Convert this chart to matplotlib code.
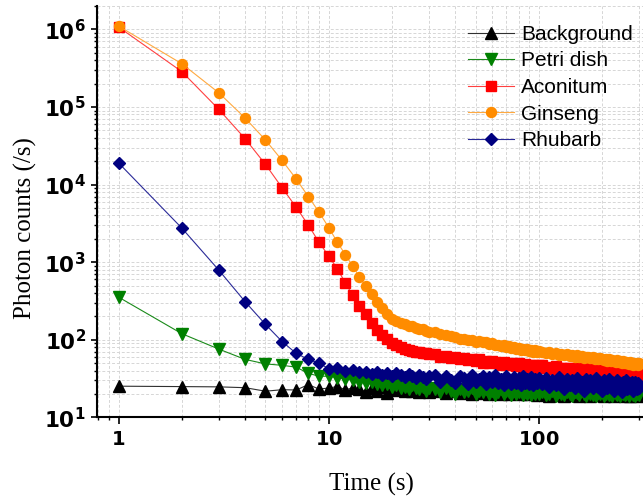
import numpy as np
import matplotlib
matplotlib.use("Agg")
from matplotlib import pyplot as plt
from matplotlib.ticker import FuncFormatter, LogLocator, NullFormatter

# time grid (s): every 1 s to 30, every 2 s to 100, every 4 s to 300
time_s = np.concatenate([np.arange(1, 31), np.arange(32, 101, 2), np.arange(104, 301, 4)])

background_early = [25.3, 25, 24.8, 24.2, 21.8, 22.8, 22.6, 26.5, 23.2, 24,
                    25, 22.8, 24, 23, 21.5, 23.8, 22, 24.5, 20.5, 23,
                    22.4, 24.6, 21.8, 23.5, 22, 24.8, 21.6, 22.8, 23.6, 21.4]
background_mid = [22, 22.8, 20.5, 21.8, 23, 20.6, 21.2, 22.3, 20, 21.5,
                  22.6, 20.8, 21.3, 19.8, 22, 20.9, 22.8, 20.3, 21.5, 22.1,
                  20, 21.1, 22.2, 20.4, 21.6, 19.8, 21.2, 22.2, 20.1, 20.8,
                  21.6, 20.4, 21.2, 19.5, 21]
background_late = [20, 21, 19.1, 20.4, 21.5, 19.3, 20.1, 18.7, 20.8, 20.3,
                   19.5, 21.2, 19.9, 19.1, 20.6, 21, 19.4, 20, 18.9, 20.7,
                   21.3, 19.2, 20.2, 19.7, 20.9, 18.8, 20.4, 19.8, 21.1, 19.5,
                   20.1, 18.7, 20.5, 21, 19.3, 19.9, 19.6, 20.8, 18.9, 20.3,
                   19.4, 20.6, 19.1, 20.1, 21.2, 19.5, 19.9, 18.8, 20.4, 19.8]

petri_early = [355, 120, 76, 56, 49, 47, 44.5, 37, 34, 34,
               32.5, 31.5, 30, 29, 28, 29, 27, 26, 27, 25,
               26, 24, 25, 23, 26, 24, 23, 25, 22, 24]
petri_mid = [23, 21, 24, 22, 20, 23, 21, 22, 24, 20,
             22, 21, 23, 20, 22, 19.5, 21, 23, 20, 22,
             21, 19.5, 22, 20, 21, 23, 19.5, 21, 20, 22,
             19.5, 21, 20, 22, 20]
petri_late = [21, 19.5, 20, 22, 19, 21, 20, 19.5, 21.5, 20,
              19, 21, 20.5, 19.5, 22, 20, 19, 21, 20, 19.5,
              21, 19, 20.5, 20, 21.5, 19, 20, 21, 19.5, 20,
              19, 21, 20, 19.5, 20.5, 19, 21, 20, 19.5, 20,
              21, 19, 20, 20.5, 19.5, 21, 19, 20, 20.5, 19.5]

aconitum_early = [1070000, 285000, 93000, 39000, 18200, 9100, 5100, 3000, 1800, 1200,
                  820, 540, 375, 275, 215, 165, 135, 116, 102, 92,
                  85, 80, 77, 74, 72, 70, 69, 67, 67, 65]
aconitum_mid = [66, 61, 62, 58, 60, 56, 59, 55, 56, 53,
                57, 51, 54, 50, 54, 52, 50, 48, 52, 49,
                47, 51, 48, 46, 50, 47, 45, 49, 46, 48,
                44, 47, 46, 44, 47]
aconitum_late = [47, 43, 45, 42, 46, 41, 44, 43, 40, 44,
                 41, 43, 39, 42, 40, 43, 38, 41, 42, 39,
                 41, 37, 40, 39, 41, 37, 39, 40, 36, 39,
                 38, 40, 36, 38, 39, 35, 38, 37, 39, 35,
                 36, 33, 37, 35, 38, 34, 36, 38, 35, 39]

ginseng_early = [1100000, 360000, 152000, 72000, 37500, 20500, 11800, 7000, 4400, 2800,
                 1800, 1250, 890, 650, 490, 385, 310, 255, 215, 188,
                 176, 166, 160, 153, 149, 144, 139, 136, 131, 128]
ginseng_mid = [126, 118, 116, 111, 110, 104, 104, 99, 101, 94,
               96, 93, 93, 88, 90, 86, 87, 84, 85, 80,
               83, 78, 81, 76, 79, 75, 77, 74, 76, 71,
               75, 70, 73, 69, 71]
ginseng_late = [70, 67, 69, 65, 67, 64, 66, 63, 65, 62,
                64, 61, 63, 60, 62, 59, 61, 60, 58, 60,
                57, 59, 56, 58, 57, 55, 57, 54, 56, 53,
                55, 54, 52, 55, 52, 53, 51, 54, 50, 52,
                51, 49, 52, 50, 48, 51, 49, 50, 47, 50]

rhubarb_early = [19000, 2750, 790, 310, 158, 95, 67, 56, 50, 42.5,
                 43, 40, 41, 38, 39, 36, 38, 35, 37, 34,
                 37, 35, 33, 36, 34, 32, 35, 33, 31, 34]
rhubarb_mid = [35, 29, 34, 30, 28, 34, 32, 27, 35, 29,
               31, 34, 27, 33, 29, 35, 28, 31, 26, 34,
               30, 27, 33, 28, 32, 26, 34, 28, 31, 27,
               33, 26, 31, 28, 32]
rhubarb_late = [27, 32, 25, 30, 26, 33, 28, 23, 31, 26,
                30, 24, 32, 26, 29, 22, 31, 27, 30, 24,
                28, 32, 25, 27, 22, 30, 26, 24, 31, 25,
                29, 22, 27, 30, 24, 28, 21, 29, 25, 30,
                23, 28, 24, 29, 22, 26, 29, 23, 28, 24]

labels = ['Background', 'Petri dish', 'Aconitum', 'Ginseng', 'Rhubarb']
series = [background_early + background_mid + background_late,
          petri_early + petri_mid + petri_late,
          aconitum_early + aconitum_mid + aconitum_late,
          ginseng_early + ginseng_mid + ginseng_late,
          rhubarb_early + rhubarb_mid + rhubarb_late]
markers = ['^', 'v', 's', 'o', 'D']
marker_colors = ['#000000', '#008000', '#ff0000', '#ff8c00', '#000080']
line_colors = ['#303030', '#1a8a1a', '#ff4040', '#ffa940', '#2a2a98']
marker_sizes = [8, 8, 6.5, 7.2, 5.8]

fig = plt.figure(figsize=(6.43, 5.01), dpi=100)
ax = fig.add_axes([0.151, 0.1667, 0.849, 0.8214])

for vals, lab, mk, mc, lc, ms in zip(series, labels, markers, marker_colors, line_colors, marker_sizes):
    ax.plot(time_s, vals, marker=mk, color=lc, mfc=mc, mec=mc, ms=ms, lw=0.8, label=lab)

ax.set_xscale('log')
ax.set_yscale('log')
ax.set_xlim(0.79, 313)
ax.set_ylim(10, 2.0e6)

ax.xaxis.set_major_locator(LogLocator(base=10, numticks=10))
ax.xaxis.set_minor_locator(LogLocator(base=10, subs=np.arange(2, 10), numticks=20))
ax.yaxis.set_major_locator(LogLocator(base=10, numticks=10))
ax.yaxis.set_minor_locator(LogLocator(base=10, subs=np.arange(2, 10), numticks=20))
ax.xaxis.set_major_formatter(FuncFormatter(lambda v, p: r'$\mathbf{%d}$' % round(v)))
ax.yaxis.set_major_formatter(FuncFormatter(lambda v, p: r'$\mathbf{10^{%d}}$' % round(np.log10(v))))
ax.xaxis.set_minor_formatter(NullFormatter())
ax.yaxis.set_minor_formatter(NullFormatter())

ax.tick_params(axis='x', which='major', direction='out', length=5, width=1.2, labelsize=14, pad=4)
ax.tick_params(axis='y', which='major', direction='out', length=4, width=1.2, labelsize=15.5, pad=4)
ax.tick_params(which='minor', direction='out', length=2.5, width=1)

ax.spines['top'].set_visible(False)
ax.spines['right'].set_visible(False)
ax.spines['left'].set_linewidth(1.5)
ax.spines['bottom'].set_linewidth(1.5)

ax.grid(True, which='both', color='#d6d6d6', linestyle=(0, (3, 2)), linewidth=0.7)
ax.set_axisbelow(True)

ax.set_xlabel('Time (s)', fontsize=18, family='Liberation Serif')
ax.set_ylabel('Photon counts (/s)', fontsize=18, family='Liberation Serif')
ax.xaxis.label.set_va('center')
ax.yaxis.label.set_va('center')
ax.xaxis.set_label_coords(0.503, -0.163)
ax.yaxis.set_label_coords(-0.131, 0.46)

ax.legend(loc='upper left', bbox_to_anchor=(468 / 643, 1 - 25 / 501), bbox_transform=fig.transFigure,
          frameon=False, borderpad=0, borderaxespad=0, handlelength=2.2, handletextpad=0.35,
          labelspacing=0.36, numpoints=1, prop={'family': 'Liberation Sans', 'size': 15})

fig.savefig('out.png', dpi=100)
